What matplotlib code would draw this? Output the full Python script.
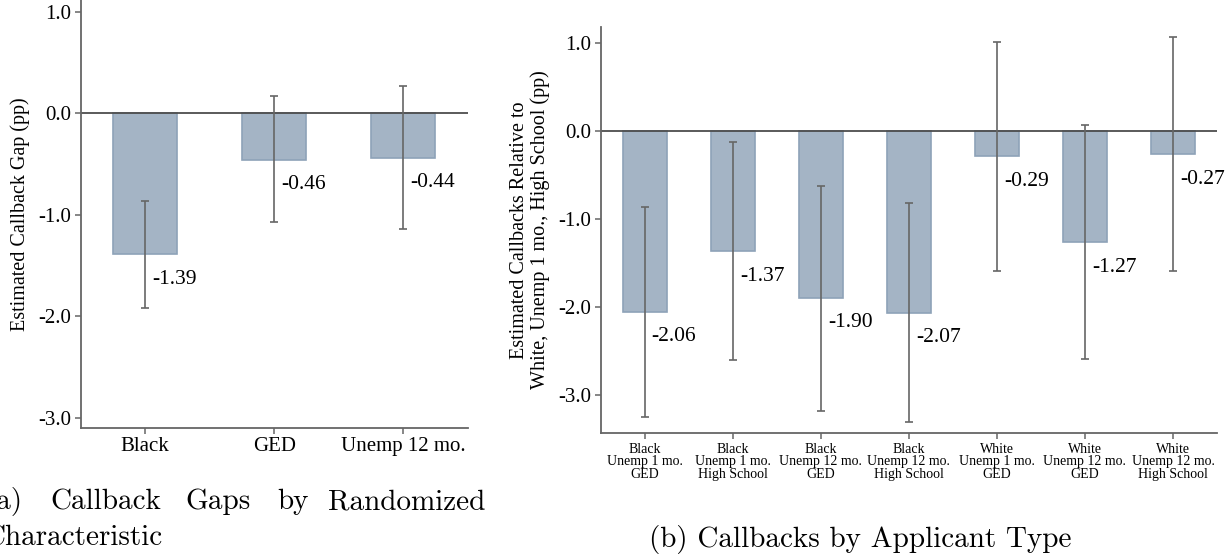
import matplotlib
matplotlib.use('Agg')
import matplotlib.pyplot as plt
from matplotlib.ticker import FormatStrFormatter

plt.rcParams['font.family'] = ['Liberation Serif', 'DejaVu Serif']
plt.rcParams['axes.unicode_minus'] = False

# panel a
cats_a = ['Black', 'GED', 'Unemp 12 mo.']
vals_a = [-1.39, -0.46, -0.44]
lo_a = [-1.92, -1.07, -1.14]
hi_a = [-0.86, 0.17, 0.27]

# panel b
cats_b = ['Black\nUnemp 1 mo.\nGED', 'Black\nUnemp 1 mo.\nHigh School',
          'Black\nUnemp 12 mo.\nGED', 'Black\nUnemp 12 mo.\nHigh School',
          'White\nUnemp 1 mo.\nGED', 'White\nUnemp 12 mo.\nGED',
          'White\nUnemp 12 mo.\nHigh School']
vals_b = [-2.06, -1.37, -1.90, -2.07, -0.29, -1.27, -0.27]
lo_b = [-3.25, -2.61, -3.18, -3.31, -1.59, -2.59, -1.59]
hi_b = [-0.87, -0.125, -0.63, -0.82, 1.01, 0.06, 1.07]

yticks = [1.0, 0.0, -1.0, -2.0, -3.0]

BAR = '#a4b4c5'
EDGE = '#8ea2b8'
GREY = '#666666'
W, H = 1232, 558


def draw(ax, cats, vals, lo, hi, ylim, xfs):
    x = list(range(len(cats)))
    ax.bar(x, vals, width=0.5, color=BAR, edgecolor=EDGE, linewidth=1.2, zorder=1)
    err = [[v - l for v, l in zip(vals, lo)], [h - v for v, h in zip(vals, hi)]]
    ax.errorbar(x, vals, yerr=err, fmt='none', ecolor=GREY, elinewidth=1.2,
                capsize=3.2, capthick=1.2, zorder=3)
    ax.axhline(0, color='#4d4d4d', lw=1.3, zorder=2)
    for xi, v in zip(x, vals):
        ax.annotate('%.2f' % v, (xi, v), xytext=(7, -25), textcoords='offset pixels',
                    ha='left', va='center', fontsize=15.5)
    ax.set_xlim(-0.5, len(cats) - 0.5)
    ax.set_ylim(*ylim)
    ax.set_yticks(yticks)
    ax.yaxis.set_major_formatter(FormatStrFormatter('%.1f'))
    ax.set_xticks(x)
    ax.set_xticklabels(cats, fontsize=xfs, linespacing=0.95)
    ax.tick_params(axis='y', labelsize=15, length=4.5, width=1.1, color=GREY, pad=2.5)
    ax.tick_params(axis='x', length=4, width=1.1, color=GREY, pad=3)
    for s in ['top', 'right']:
        ax.spines[s].set_visible(False)
    for s in ['left', 'bottom']:
        ax.spines[s].set_color(GREY)
        ax.spines[s].set_linewidth(1.3)


fig = plt.figure(figsize=(W / 100, H / 100), dpi=100)

ax1 = fig.add_axes([80.7 / W, 1 - 427.7 / H, 387 / W, 427.7 / H])
draw(ax1, cats_a, vals_a, lo_a, hi_a, (-3.10, 1.117), 15)
ax1.set_ylabel('Estimated Callback Gap (pp)', fontsize=14.5, labelpad=6)

ax2 = fig.add_axes([600.7 / W, 1 - 433 / H, 616.3 / W, 406 / H])
draw(ax2, cats_b, vals_b, lo_b, hi_b, (-3.435, 1.178), 10)
ax2.set_ylabel('Estimated Callbacks Relative to\nWhite, Unemp 1 mo., High School (pp)',
               fontsize=14.5, linespacing=1.05, labelpad=6)

# captions (LaTeX style), first caption is justified and runs off the left edge
cap = dict(fontsize=21, family='cmr10', va='center')
fig.text(22 / W, 1 - 502 / H, '(a)', ha='right', **cap)
fig.text(50 / W, 1 - 502 / H, 'Callback', ha='left', **cap)
fig.text(185 / W, 1 - 502 / H, 'Gaps', ha='left', **cap)
fig.text(277 / W, 1 - 502 / H, 'by', ha='left', **cap)
fig.text(485 / W, 1 - 502 / H, 'Randomized', ha='right', **cap)
fig.text(163 / W, 1 - 538 / H, 'Characteristic', ha='right', **cap)
fig.text(860 / W, 1 - 540 / H, '(b) Callbacks by Applicant Type', ha='center', **cap)

fig.savefig('out.png', dpi=100)
plt.close('all')
